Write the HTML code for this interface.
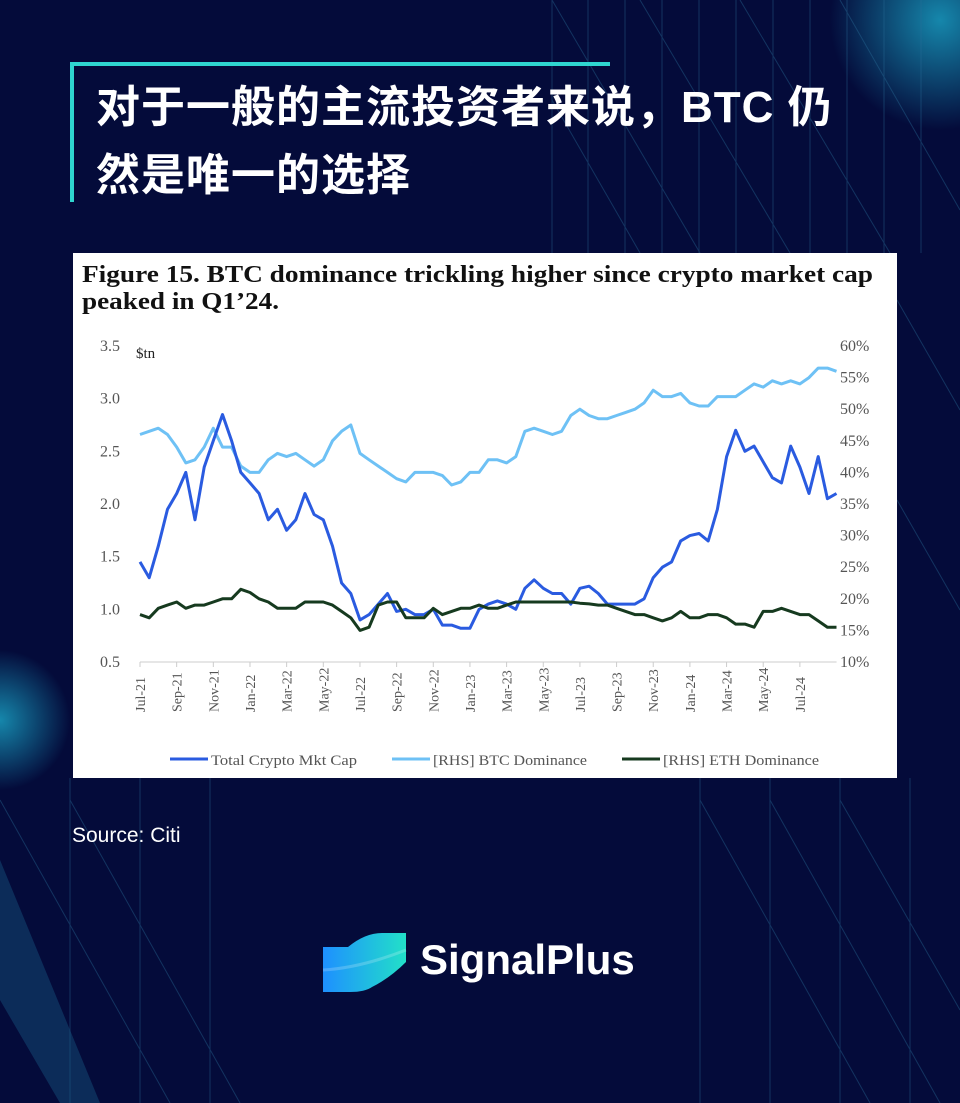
<!DOCTYPE html>
<html><head><meta charset="utf-8">
<style>
html,body{margin:0;padding:0}
body{width:960px;height:1103px;background:#040b3a;position:relative;overflow:hidden;font-family:"Liberation Sans","Noto Sans CJK SC",sans-serif}
.abs{position:absolute}
</style></head>
<body>
<svg class="abs" style="left:0;top:0" width="960" height="1103">
<defs>
<radialGradient id="g1" cx="0.5" cy="0.5" r="0.5"><stop offset="0" stop-color="#1aa6c8" stop-opacity="0.8"/><stop offset="1" stop-color="#1aa6c8" stop-opacity="0"/></radialGradient>
<linearGradient id="lg" x1="0" y1="0" x2="1" y2="0"><stop offset="0" stop-color="#1e90ff"/><stop offset="1" stop-color="#22e0c8"/></linearGradient>
</defs>
<circle cx="940" cy="20" r="110" fill="url(#g1)"/>
<circle cx="0" cy="720" r="70" fill="url(#g1)"/>
<g stroke="#2a6f9a" stroke-width="1" opacity="0.4">
<line x1="552" y1="0" x2="552" y2="253"/><line x1="588" y1="0" x2="588" y2="253"/><line x1="625" y1="0" x2="625" y2="253"/><line x1="662" y1="0" x2="662" y2="253"/><line x1="699" y1="0" x2="699" y2="253"/><line x1="736" y1="0" x2="736" y2="253"/><line x1="773" y1="0" x2="773" y2="253"/><line x1="810" y1="0" x2="810" y2="253"/><line x1="847" y1="0" x2="847" y2="253"/><line x1="884" y1="0" x2="884" y2="253"/><line x1="921" y1="0" x2="921" y2="253"/>
<line x1="552" y1="0" x2="700" y2="253"/><line x1="640" y1="0" x2="790" y2="253"/><line x1="740" y1="0" x2="890" y2="253"/><line x1="840" y1="0" x2="960" y2="210"/>
<line x1="552" y1="100" x2="640" y2="253"/>
<line x1="70" y1="778" x2="70" y2="1103"/><line x1="140" y1="778" x2="140" y2="1103"/><line x1="210" y1="778" x2="210" y2="1103"/><line x1="700" y1="778" x2="700" y2="1103"/><line x1="770" y1="778" x2="770" y2="1103"/><line x1="840" y1="778" x2="840" y2="1103"/><line x1="910" y1="778" x2="910" y2="1103"/>
<line x1="0" y1="800" x2="170" y2="1103"/><line x1="70" y1="800" x2="240" y2="1103"/><line x1="700" y1="800" x2="870" y2="1103"/><line x1="770" y1="800" x2="940" y2="1103"/><line x1="840" y1="800" x2="960" y2="1010"/>
<line x1="897" y1="300" x2="960" y2="410"/><line x1="897" y1="500" x2="960" y2="610"/>
</g>
<polygon points="0,860 0,1000 60,1103 100,1103" fill="#1a5f8a" opacity="0.4"/>
</svg>

<div class="abs" style="left:70px;top:62px;width:540px;height:4px;background:#2fd6d0"></div>
<div class="abs" style="left:70px;top:62px;width:4px;height:140px;background:#2fd6d0"></div>
<div class="abs" style="left:96px;top:74px;width:820px;color:#fff;font-size:44px;font-weight:bold;line-height:68px;letter-spacing:1px;font-family:'Liberation Sans','Noto Sans CJK SC',sans-serif">对于一般的主流投资者来说，BTC 仍<br>然是唯一的选择</div>

<div class="abs" style="left:73px;top:253px;width:824px;height:525px;background:#fff"></div>
<svg class="abs" id="chart" style="left:0;top:0" width="960" height="1103"></svg>

<div class="abs" style="left:72px;top:824px;color:#fff;font-size:21px">Source: Citi</div>

<svg class="abs" style="left:320px;top:930px" width="90" height="70">
<path d="M3,17 L28,17 Q45,3 62,3 L86,3 L86,32 Q70,48 52,57 Q45,62 30,62 L3,62 Z" fill="url(#lg)"/>
<path d="M3,40 Q40,38 86,20" stroke="#ffffff" stroke-opacity="0.2" fill="none" stroke-width="3"/>
</svg>
<div class="abs" style="left:420px;top:936px;color:#fff;font-size:42px;font-weight:bold">SignalPlus</div>

<script>
const months = [0,0.5,1,1.5,2,2.5,3,3.5,4,4.5,5,5.5,6,6.5,7,7.5,8,8.5,9,9.5,10,10.5,11,11.5,12,12.5,13,13.5,14,14.5,15,15.5,16,16.5,17,17.5,18,18.5,19,19.5,20,20.5,21,21.5,22,22.5,23,23.5,24,24.5,25,25.5,26,26.5,27,27.5,28,28.5,29,29.5,30,30.5,31,31.5,32,32.5,33,33.5,34,34.5,35,35.5,36,36.5,37,37.5,38];
const totalMktCap = [1.45,1.3,1.6,1.95,2.1,2.3,1.85,2.35,2.6,2.85,2.6,2.3,2.2,2.1,1.85,1.95,1.75,1.85,2.1,1.9,1.85,1.6,1.25,1.15,0.9,0.95,1.05,1.15,0.98,1.0,0.95,0.95,1.0,0.85,0.85,0.82,0.82,1.0,1.05,1.08,1.05,1.0,1.2,1.28,1.2,1.15,1.15,1.05,1.2,1.22,1.15,1.05,1.05,1.05,1.05,1.1,1.3,1.4,1.45,1.65,1.7,1.72,1.65,1.95,2.45,2.7,2.5,2.55,2.4,2.25,2.2,2.55,2.35,2.1,2.45,2.05,2.1];
const btcDominance = [46,46.5,47,46,44,41.5,42,44,47,44,44,41,40,40,42,43,42.5,43,42,41,42,45,46.5,47.5,43,42,41,40,39,38.5,40,40,40,39.5,38,38.5,40,40,42,42,41.5,42.5,46.5,47,46.5,46,46.5,49,50,49,48.5,48.5,49,49.5,50,51,53,52,52,52.5,51,50.5,50.5,52,52,52,53,54,53.5,54.5,54,54.5,54,55,56.5,56.5,56];
const ethDominance = [17.5,17,18.5,19,19.5,18.5,19,19,19.5,20,20,21.5,21,20,19.5,18.5,18.5,18.5,19.5,19.5,19.5,19,18,17,15,15.5,19,19.5,19.5,17,17,17,18.5,17.5,18,18.5,18.5,19,18.5,18.5,19,19.5,19.5,19.5,19.5,19.5,19.5,19.5,19.3,19.2,19,19,18.5,18,17.5,17.5,17,16.5,17,18,17,17,17.5,17.5,17,16,16,15.5,18,18,18.5,18,17.5,17.5,16.5,15.5,15.5];
const leftTicks = [0.5,1.0,1.5,2.0,2.5,3.0,3.5];
const rightTicks = [10,15,20,25,30,35,40,45,50,55,60];
const xTickLabels = ["Jul-21","Sep-21","Nov-21","Jan-22","Mar-22","May-22","Jul-22","Sep-22","Nov-22","Jan-23","Mar-23","May-23","Jul-23","Sep-23","Nov-23","Jan-24","Mar-24","May-24","Jul-24"];

const svg = document.getElementById('chart');
const NS = 'http://www.w3.org/2000/svg';
const X0 = 140, PX_PER_MONTH = 18.33, Y_BOTTOM = 662, Y_TOP = 346;
const xScale = m => X0 + m * PX_PER_MONTH;
const yLeft = v => Y_BOTTOM - (v - 0.5) / 3.0 * (Y_BOTTOM - Y_TOP);
const yRight = p => Y_BOTTOM - (p - 10) / 50 * (Y_BOTTOM - Y_TOP);
function mk(tag, attrs, text){
  const e = document.createElementNS(NS, tag);
  for (const k in attrs) e.setAttribute(k, attrs[k]);
  if (text !== undefined) e.textContent = text;
  svg.appendChild(e);
  return e;
}
const serif = '"Liberation Serif", serif';
let t;
t = mk('text',{x:82,y:282,'font-family':serif,'font-size':24,'font-weight':'bold',fill:'#111',textLength:791,lengthAdjust:'spacingAndGlyphs'},'Figure 15. BTC dominance trickling higher since crypto market cap');


t = mk('text',{x:82,y:309,'font-family':serif,'font-size':24,'font-weight':'bold',fill:'#111',textLength:197,lengthAdjust:'spacingAndGlyphs'},'peaked in Q1’24.');


t = mk('text',{x:136,y:358,'font-family':serif,'font-size':15,fill:'#222'},'$tn');



leftTicks.forEach(v=>{
  const e = mk('text',{x:120,y:yLeft(v)+5,'text-anchor':'end','font-family':serif,'font-size':16,fill:'#555'},v.toFixed(1));
  
  
});
rightTicks.forEach(p=>{
  const e = mk('text',{x:840,y:yRight(p)+5,'font-family':serif,'font-size':16,fill:'#555'},p+'%');
  
  
});
const axis = mk('line',{x1:xScale(0),y1:Y_BOTTOM,x2:xScale(38),y2:Y_BOTTOM,stroke:'#ccc','stroke-width':1});


xTickLabels.forEach((lab,i)=>{
  const x = xScale(i*2);
  const tk = mk('line',{x1:x,y1:Y_BOTTOM,x2:x,y2:Y_BOTTOM+5,stroke:'#ccc'});
  
  
  const e = mk('text',{x:x+5,y:712,'text-anchor':'start','font-family':serif,'font-size':14,fill:'#555',transform:`rotate(-90 ${x+5} 712)`},lab);
  
  
});
function line(vals, yf, color, name){
  const d = vals.map((v,i)=>(i?'L':'M')+xScale(months[i]).toFixed(1)+','+yf(v).toFixed(1)).join(' ');
  const p = mk('path',{d:d,fill:'none',stroke:color,'stroke-width':3,'stroke-linejoin':'round'});
  
  
}
line(btcDominance, yRight, '#6ec1f5', 'btc-dominance-line');
line(totalMktCap, yLeft, '#2a5be0', 'total-mkt-cap-line');
line(ethDominance, yRight, '#163a1f', 'eth-dominance-line');

const legend = [['Total Crypto Mkt Cap','#2a5be0',170,146],['[RHS] BTC Dominance','#6ec1f5',392,154],['[RHS] ETH Dominance','#163a1f',622,156]];
legend.forEach(([lab,c,x,w])=>{
  const l = mk('line',{x1:x,y1:759,x2:x+38,y2:759,stroke:c,'stroke-width':3});
  
  
  const e = mk('text',{x:x+41,y:765,'font-family':serif,'font-size':15,fill:'#555',textLength:w,lengthAdjust:'spacingAndGlyphs'},lab);
  
  
});
</script>
</body></html>
